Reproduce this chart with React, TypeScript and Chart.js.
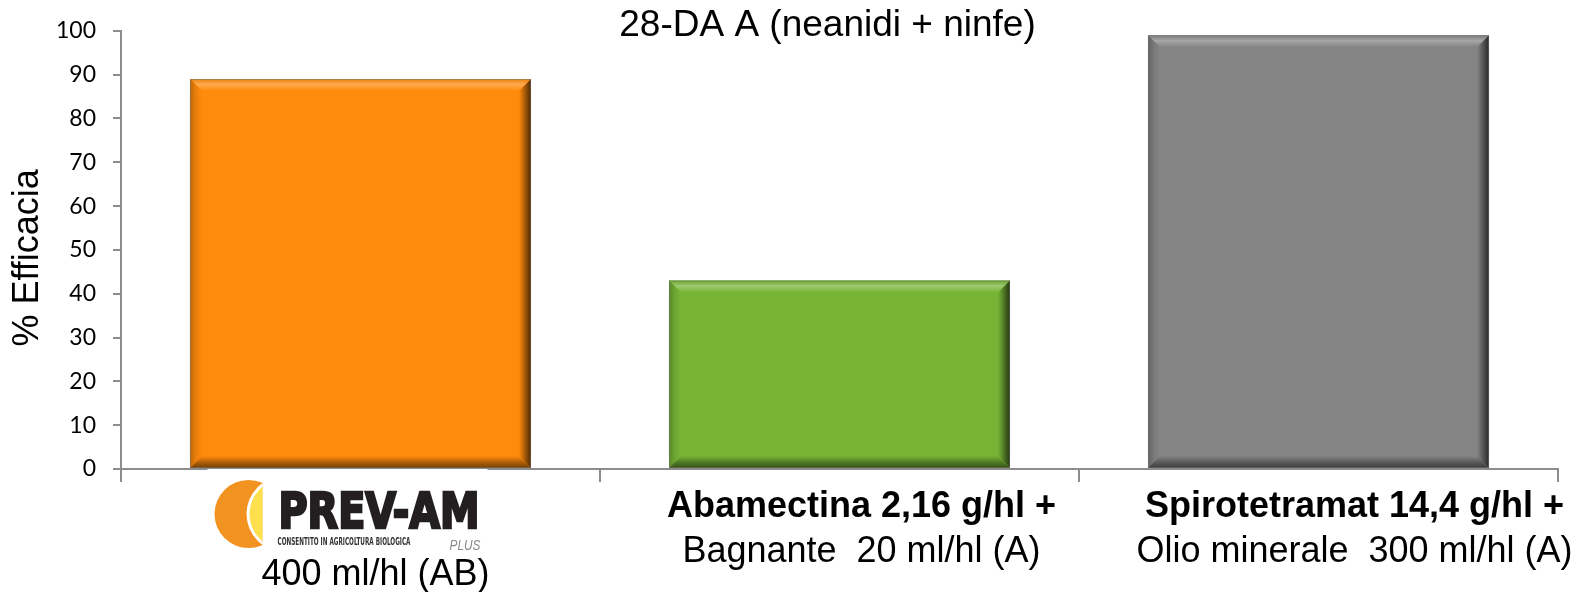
import React, { useEffect, useRef } from 'react';
import { Chart, registerables } from 'chart.js';

Chart.register(...registerables);

// ---------- data ----------
const chartTitle = '28-DA A (neanidi + ninfe)';
const yAxisTitle = '% Efficacia';
const categories = [
  'PREV-AM PLUS 400 ml/hl (AB)',
  'Abamectina 2,16 g/hl + Bagnante 20 ml/hl (A)',
  'Spirotetramat 14,4 g/hl + Olio minerale 300 ml/hl (A)',
];
const efficacy = [89, 43, 99];
const barColors = ['#FF8A0B', '#77B436', '#848484'];
const labelBoldLines = ['', 'Abamectina 2,16 g/hl +', 'Spirotetramat 14,4 g/hl +'];
const labelPlainLines = ['400 ml/hl (AB)', 'Bagnante  20 ml/hl (A)', 'Olio minerale  300 ml/hl (A)'];
const logoName = 'PREV-AM';
const logoTagline = 'CONSENTITO IN AGRICOLTURA BIOLOGICA';
const logoSuffix = 'PLUS';
const yMin = 0;
const yMax = 100;
const yStep = 10;

// ---------- styling helpers ----------
const SANS = '"Liberation Sans", Arial, sans-serif';
const AXIS_COLOR = '#8d8d8d';
const labelShift = [15, 22, 36];

function hexToRgb(h: string): number[] {
  const n = parseInt(h.slice(1), 16);
  return [(n >> 16) & 255, (n >> 8) & 255, n & 255];
}
function mix(h: string, target: number, t: number): string {
  const [r, g, b] = hexToRgb(h);
  const m = (c: number) => Math.round(c + (target - c) * t);
  return `rgb(${m(r)},${m(g)},${m(b)})`;
}
function poly(ctx: CanvasRenderingContext2D, pts: number[][], fill: any) {
  ctx.beginPath();
  ctx.moveTo(pts[0][0], pts[0][1]);
  for (let i = 1; i < pts.length; i++) ctx.lineTo(pts[i][0], pts[i][1]);
  ctx.closePath();
  ctx.fillStyle = fill;
  ctx.fill();
}

const bevelPlugin = {
  id: 'bevel',
  afterDatasetsDraw(chart: any) {
    const ctx: CanvasRenderingContext2D = chart.ctx;
    const meta = chart.getDatasetMeta(0);
    meta.data.forEach((el: any, i: number) => {
      const { x, y, base, width } = el.getProps(['x', 'y', 'base', 'width'], true);
      const col = barColors[i % barColors.length];
      const l = x - width / 2;
      const r = x + width / 2;
      const t = Math.min(y, base);
      const bt = Math.max(y, base);
      const b = 12;
      ctx.save();
      // top
      let g = ctx.createLinearGradient(0, t, 0, t + b);
      g.addColorStop(0, mix(col, 0, 0.08));
      g.addColorStop(0.45, mix(col, 255, 0.28));
      g.addColorStop(1, col);
      poly(ctx, [[l, t], [r, t], [r - b, t + b], [l + b, t + b]], g);
      // left
      g = ctx.createLinearGradient(l, 0, l + b, 0);
      g.addColorStop(0, mix(col, 0, 0.25));
      g.addColorStop(0.5, mix(col, 0, 0.08));
      g.addColorStop(1, col);
      poly(ctx, [[l, t], [l + b, t + b], [l + b, bt - b], [l, bt]], g);
      // right
      g = ctx.createLinearGradient(r - b, 0, r, 0);
      g.addColorStop(0, col);
      g.addColorStop(0.5, mix(col, 0, 0.35));
      g.addColorStop(1, mix(col, 0, 0.7));
      poly(ctx, [[r, t], [r, bt], [r - b, bt - b], [r - b, t + b]], g);
      // bottom
      g = ctx.createLinearGradient(0, bt - b, 0, bt);
      g.addColorStop(0, col);
      g.addColorStop(0.5, mix(col, 0, 0.3));
      g.addColorStop(1, mix(col, 0, 0.55));
      poly(ctx, [[l, bt], [r, bt], [r - b, bt - b], [l + b, bt - b]], g);
      // thin outline
      ctx.strokeStyle = 'rgba(120,120,120,0.5)';
      ctx.lineWidth = 1;
      ctx.strokeRect(l + 0.5, t + 0.5, width - 1, bt - t - 1);
      ctx.restore();
    });
  },
};

function fitText(ctx: CanvasRenderingContext2D, text: string, x: number, yBase: number, w: number, strokeW = 0) {
  const m = ctx.measureText(text).width;
  ctx.save();
  ctx.translate(x, yBase);
  ctx.scale(w / m, 1);
  ctx.textAlign = 'left';
  if (strokeW > 0) {
    ctx.strokeStyle = ctx.fillStyle as string;
    ctx.lineWidth = strokeW;
    ctx.lineJoin = 'miter';
    ctx.strokeText(text, 0, 0);
  }
  ctx.fillText(text, 0, 0);
  ctx.restore();
}

const labelsPlugin = {
  id: 'customLabels',
  afterDraw(chart: any) {
    const ctx: CanvasRenderingContext2D = chart.ctx;
    const area = chart.chartArea;
    const xs = chart.scales.x;
    ctx.save();
    ctx.textBaseline = 'alphabetic';

    // chart title
    ctx.fillStyle = '#000';
    ctx.font = `37px ${SANS}`;
    ctx.textAlign = 'center';
    ctx.fillText(chartTitle, (area.left + area.right) / 2 - 12, area.top + 5);

    // y axis title
    ctx.save();
    ctx.translate(area.left - 93, (area.top + area.bottom) / 2 + 8);
    ctx.rotate(-Math.PI / 2);
    ctx.textBaseline = 'middle';
    ctx.font = `36px ${SANS}`;
    ctx.fillText(yAxisTitle, 0, 0);
    ctx.restore();

    const ab = area.bottom;

    // logo for first category
    const cx = xs.getPixelForValue(0);
    ctx.fillStyle = '#fff';
    ctx.fillRect(cx - 153, ab, 280, 86);

    const cy = ab + 45;
    ctx.save();
    ctx.beginPath();
    ctx.rect(cx - 160, ab + 5, 62, 80);
    ctx.clip();
    ctx.beginPath();
    ctx.arc(cx - 112, cy, 34, 0, Math.PI * 2);
    ctx.fillStyle = '#F29220';
    ctx.fill();
    ctx.beginPath();
    ctx.arc(cx - 76, cy, 38, 0, Math.PI * 2);
    ctx.fillStyle = '#fff';
    ctx.fill();
    ctx.beginPath();
    ctx.arc(cx - 76, cy, 35, 0, Math.PI * 2);
    ctx.fillStyle = '#FEE04E';
    ctx.fill();
    ctx.restore();

    ctx.fillStyle = '#231f20';
    ctx.font = `bold 50px "DejaVu Sans Condensed", "DejaVu Sans", sans-serif`;
    fitText(ctx, logoName, cx - 82, ab + 59, 201, 2.5);
    ctx.fillStyle = '#333';
    ctx.font = `bold 10px "DejaVu Sans Condensed", "DejaVu Sans", sans-serif`;
    fitText(ctx, logoTagline, cx - 83, ab + 76, 133);
    ctx.fillStyle = '#8a8a8a';
    ctx.font = `italic 14px ${SANS}`;
    fitText(ctx, logoSuffix, cx + 89, ab + 81, 31);

    // category text labels
    ctx.fillStyle = '#000';
    ctx.textAlign = 'center';
    categories.forEach((_, i) => {
      const px = xs.getPixelForValue(i) + labelShift[i];
      if (labelBoldLines[i]) {
        ctx.font = `bold 36px ${SANS}`;
        ctx.fillText(labelBoldLines[i], px, ab + 48);
        ctx.font = `36px ${SANS}`;
        ctx.fillText(labelPlainLines[i], px, ab + 93);
      } else {
        ctx.font = `36px ${SANS}`;
        ctx.fillText(labelPlainLines[i], px, ab + 116);
      }
    });
    ctx.restore();
  },
};

export default function App() {
  const ref = useRef<HTMLCanvasElement | null>(null);

  useEffect(() => {
    if (!ref.current) return;
    const chart = new Chart(ref.current, {
      type: 'bar',
      data: {
        labels: categories,
        datasets: [
          {
            label: yAxisTitle,
            data: efficacy,
            backgroundColor: barColors,
            borderWidth: 0,
            barPercentage: 0.712,
            categoryPercentage: 1,
          },
        ],
      },
      options: {
        animation: false,
        responsive: false,
        maintainAspectRatio: false,
        layout: { padding: { top: 28, right: 26, bottom: 0, left: 0 } },
        plugins: {
          legend: { display: false },
          tooltip: { enabled: false },
          title: { display: false },
        },
        scales: {
          x: {
            type: 'category',
            offset: true,
            grid: {
              display: true,
              offset: true,
              drawOnChartArea: false,
              drawTicks: true,
              tickLength: 13,
              color: AXIS_COLOR,
              lineWidth: 2,
            },
            border: { display: true, color: AXIS_COLOR, width: 2 },
            ticks: { display: false },
            afterFit: (s: any) => {
              s.height = 123;
            },
          },
          y: {
            min: yMin,
            max: yMax,
            ticks: {
              stepSize: yStep,
              color: '#000',
              font: { family: 'Lato, "Liberation Sans", sans-serif', size: 23 },
              padding: 17,
            },
            grid: {
              display: true,
              drawOnChartArea: false,
              drawTicks: true,
              tickLength: 8,
              color: AXIS_COLOR,
              lineWidth: 2,
            },
            border: { display: true, color: AXIS_COLOR, width: 2 },
            title: { display: false },
            afterFit: (s: any) => {
              s.width = 121;
            },
          },
        },
      },
      plugins: [bevelPlugin, labelsPlugin],
    } as any);
    return () => chart.destroy();
  }, []);

  return (
    <div style={{ position: 'absolute', left: 0, top: 0, width: 1584, height: 592, background: '#fff' }}>
      <canvas ref={ref} width={1584} height={592} style={{ width: 1584, height: 592, display: 'block' }} />
    </div>
  );
}
